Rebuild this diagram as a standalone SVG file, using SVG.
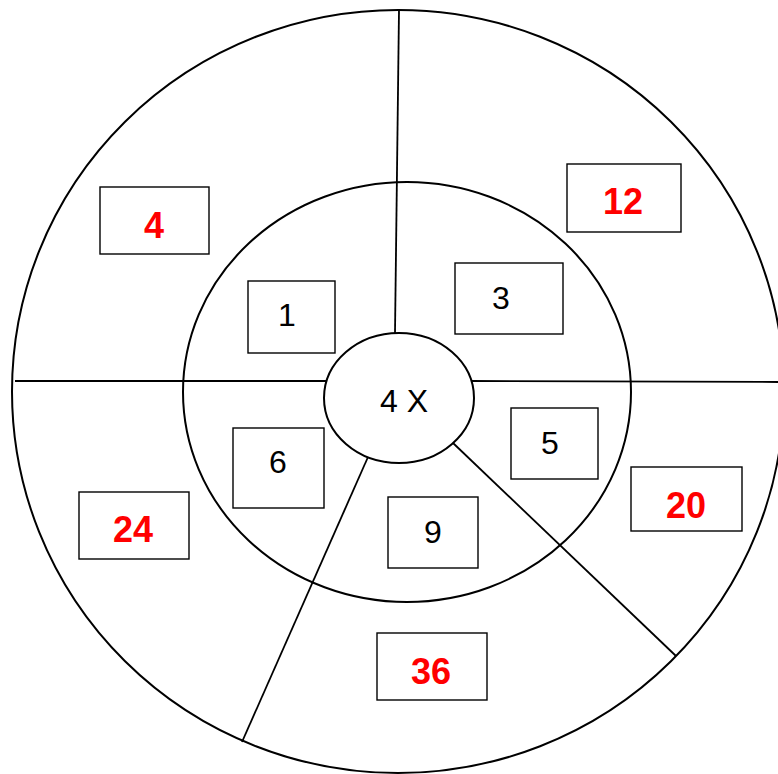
<svg xmlns="http://www.w3.org/2000/svg" width="778" height="774" viewBox="0 0 778 774">
<style>
.ring{fill:none;stroke:#000;stroke-width:2}
.ln{stroke:#000;stroke-width:1.8;fill:none}
.box{fill:#fff;stroke:#000;stroke-width:1.4}
.n{font-family:"Liberation Sans",Arial,sans-serif;font-size:32px;fill:#000;text-anchor:middle}
.r{font-family:"Liberation Sans",Arial,sans-serif;font-size:36px;font-weight:bold;fill:#ff0000;text-anchor:middle}
</style>
<rect width="778" height="774" fill="#fff"/>
<ellipse id="outer" class="ring" cx="398" cy="391.5" rx="386" ry="381.5"/>
<ellipse id="inner" class="ring" cx="407" cy="392" rx="224" ry="210"/>
<g id="connectors">
<line class="ln" x1="399" y1="10" x2="395" y2="333"/>
<line class="ln" x1="15" y1="381" x2="326" y2="381"/>
<line class="ln" x1="472" y1="381" x2="778" y2="382"/>
<line class="ln" x1="368" y1="457" x2="242" y2="742"/>
<line class="ln" x1="453" y1="443" x2="676" y2="656"/>
</g>
<g id="center">
<ellipse cx="399" cy="398" rx="75" ry="65" fill="#fff" stroke="#000" stroke-width="2"/>
<text class="n" x="404" y="412">4 X</text>
</g>
<g id="n4"><rect class="box" x="100" y="187" width="109" height="67"/><text class="r" x="154" y="238">4</text></g>
<g id="n12"><rect class="box" x="567" y="164" width="114" height="68"/><text class="r" x="623" y="214">12</text></g>
<g id="n1"><rect class="box" x="248" y="281" width="87" height="72"/><text class="n" x="287" y="326">1</text></g>
<g id="n3"><rect class="box" x="455" y="263" width="108" height="71"/><text class="n" x="501" y="309">3</text></g>
<g id="n6"><rect class="box" x="233" y="428" width="91" height="80"/><text class="n" x="278" y="473">6</text></g>
<g id="n5"><rect class="box" x="511" y="408" width="87" height="71"/><text class="n" x="550" y="454">5</text></g>
<g id="n9"><rect class="box" x="388" y="497" width="90" height="71"/><text class="n" x="433" y="543">9</text></g>
<g id="n24"><rect class="box" x="79" y="492" width="110" height="67"/><text class="r" x="133" y="542">24</text></g>
<g id="n20"><rect class="box" x="631" y="467" width="111" height="64"/><text class="r" x="686" y="518">20</text></g>
<g id="n36"><rect class="box" x="377" y="633" width="110" height="67"/><text class="r" x="431" y="684">36</text></g>
</svg>
